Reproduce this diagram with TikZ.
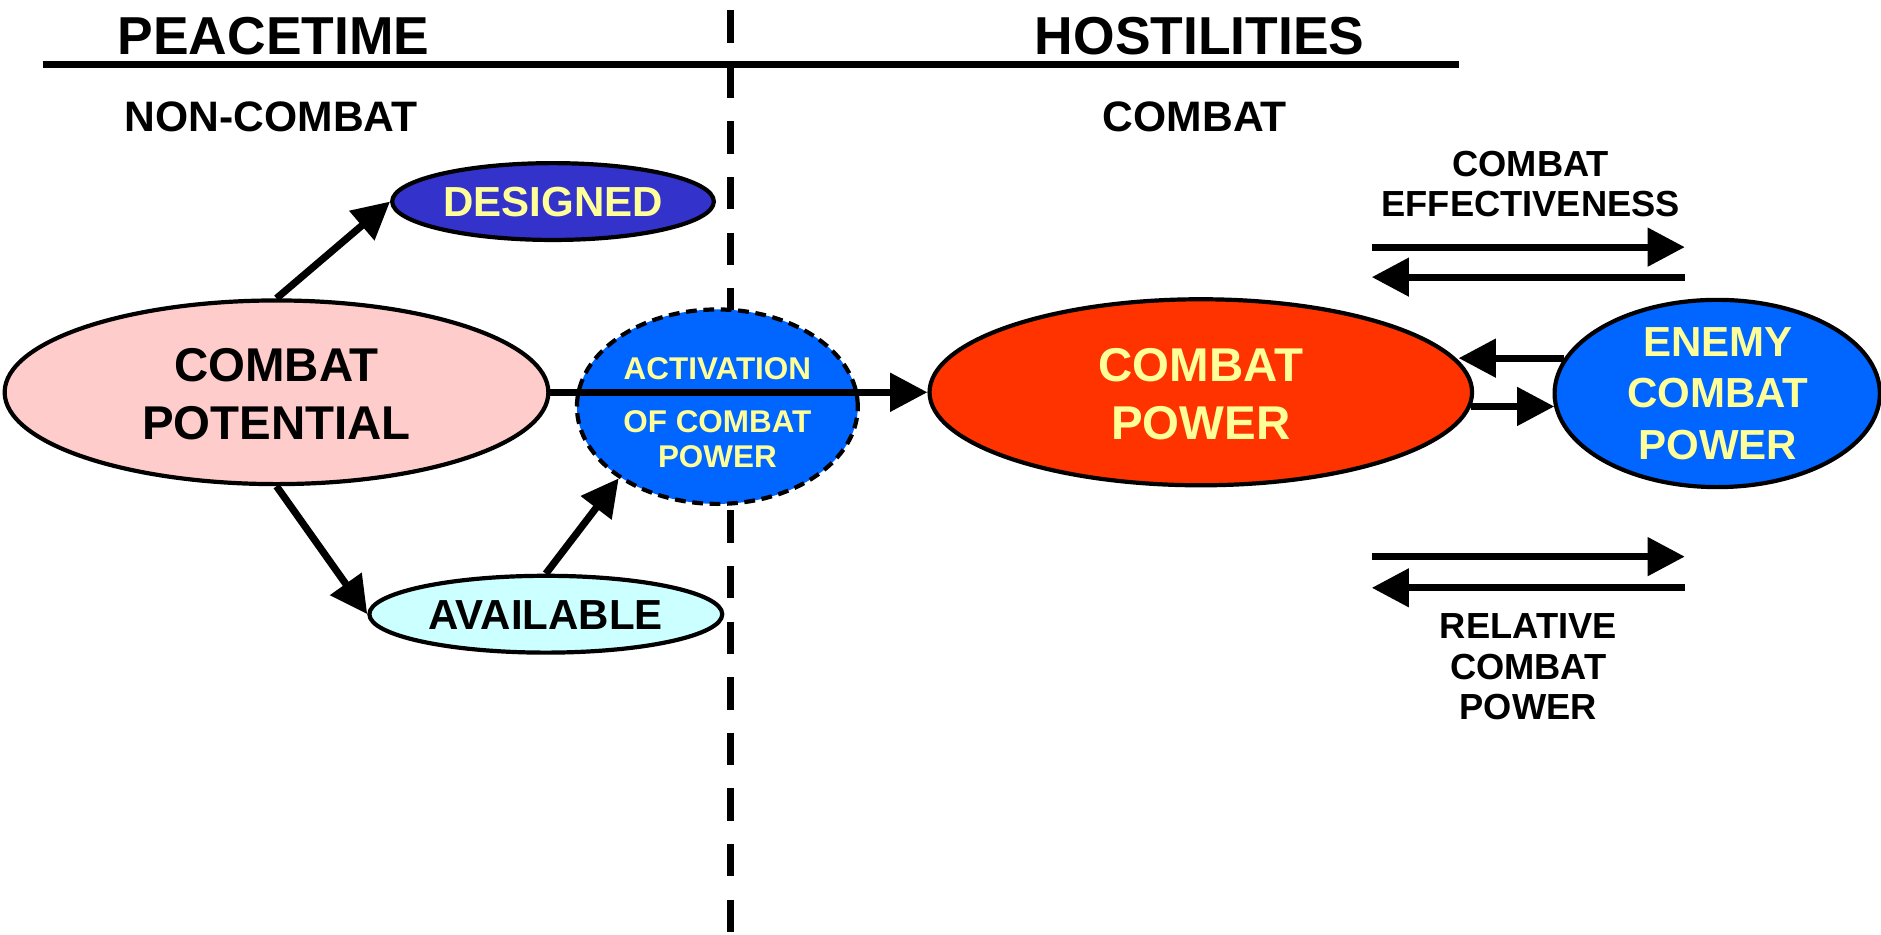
\documentclass[tikz,border=0pt]{standalone}
\usepackage{fontspec}
\setmainfont{Liberation Sans}
\usetikzlibrary{arrows.meta,shapes.geometric}
\definecolor{potpink}{HTML}{FFCCCC}
\definecolor{desblue}{HTML}{3333CC}
\definecolor{availcyan}{HTML}{CCFFFF}
\definecolor{actblue}{HTML}{0066FF}
\definecolor{powred}{HTML}{FF3300}
\definecolor{txtyellow}{HTML}{FFFF99}
\newcommand\myfs[2]{\fontsize{#1}{#2}\selectfont\bfseries}
\begin{document}
\begin{tikzpicture}[x=0.01cm,y=-0.01cm,
  oval/.style={ellipse, draw=black, line width=0.035cm, inner sep=0pt},
  lbl/.style={inner sep=0pt, align=center},
  arr/.style={line width=0.06cm, -{Triangle[length=0.31cm,width=0.31cm]}},
  headtxt/.style={lbl, font=\myfs{12.66pt}{15pt}},
  subtxt/.style={lbl, font=\myfs{10.1pt}{12pt}},
  bigtxt/.style={lbl, font=\myfs{11.24pt}{13.94pt}},
  midtxt/.style={lbl, font=\myfs{9.96pt}{12.2pt}},
  smalltxt/.style={lbl, font=\myfs{7.45pt}{8.39pt}},
  sidetxt/.style={lbl, font=\myfs{8.6pt}{9.6pt}}]
\useasboundingbox (0,0) rectangle (1568,778.6);

% divider and rule
\coordinate (divtop) at (609,8.6);
\coordinate (divbot) at (609,778.6);
\coordinate (rulel) at (35.5,54);
\coordinate (ruler) at (1216,54);
\draw[line width=0.06cm, dash pattern=on 0.27cm off 0.193cm] (divtop) -- (divbot);
\draw[line width=0.058cm] (rulel) -- (ruler);

% headings
\node[headtxt] (peace) at (228,30) {PEACETIME};
\node[headtxt] (host) at (1000,30) {HOSTILITIES};
\node[subtxt] (noncombat) at (226,97) {NON-COMBAT};
\node[subtxt] (combathead) at (996,97) {COMBAT};

% ellipses
\node[oval, fill=potpink, minimum width=4.53cm, minimum height=1.53cm] (pot) at (230.5,327) {};
\node[oval, fill=desblue, minimum width=2.68cm, minimum height=0.64cm] (des) at (461,168) {};
\node[oval, fill=availcyan, minimum width=2.94cm, minimum height=0.64cm] (avail) at (455,512) {};
\node[oval, fill=actblue, dash pattern=on 0.09cm off 0.055cm, minimum width=2.34cm, minimum height=1.62cm] (act) at (598,339) {};
\node[oval, fill=powred, minimum width=4.52cm, minimum height=1.55cm] (pow) at (1001,327) {};
\node[oval, fill=actblue, minimum width=2.71cm, minimum height=1.56cm] (enemy) at (1431.5,328) {};

% texts in ellipses
\node[bigtxt] (potT) at (230.5,328.5) {COMBAT\\POTENTIAL};
\node[midtxt, text=txtyellow] (desT) at (461,168) {DESIGNED};
\node[midtxt] (availT) at (455,513) {AVAILABLE};
\node[smalltxt, text=txtyellow] (actT) at (598,344) {ACTIVATION\\[4.13pt]OF COMBAT\\POWER};
\node[bigtxt, text=txtyellow] (powT) at (1001,328.5) {COMBAT\\POWER};
\node[midtxt, text=txtyellow] (enemyT) at (1432,328) {ENEMY\\COMBAT\\POWER};

% connectors
\draw[arr] (pot.north) -- (des.west);
\draw[arr] (pot.south) -- (avail.west);
\draw[arr] (avail.north) -- (act.216);
\draw[arr] (pot.east) -- (pow.west);
\draw[arr] (enemy.167.5) -- (pow.7.26 |- enemy.167.5);
\draw[arr] (pow.-3.34) -- (enemy.185.12 |- pow.-3.34);

% side arrows and labels
\node[sidetxt] (ceT) at (1276,153.5) {COMBAT\\EFFECTIVENESS};
\coordinate (ceL1) at (1143.5,206);
\coordinate (ceR1) at (1404.5,206);
\coordinate (ceL2) at (1143.5,231);
\coordinate (ceR2) at (1404.5,231);
\draw[arr] (ceL1) -- (ceR1);
\draw[arr] (ceR2) -- (ceL2);
\coordinate (rcL1) at (1143.5,464);
\coordinate (rcR1) at (1404.5,464);
\coordinate (rcL2) at (1143.5,490);
\coordinate (rcR2) at (1404.5,490);
\draw[arr] (rcL1) -- (rcR1);
\draw[arr] (rcR2) -- (rcL2);
\node[sidetxt] (rcT) at (1274,556) {RELATIVE\\COMBAT\\POWER};
\end{tikzpicture}
\end{document}
